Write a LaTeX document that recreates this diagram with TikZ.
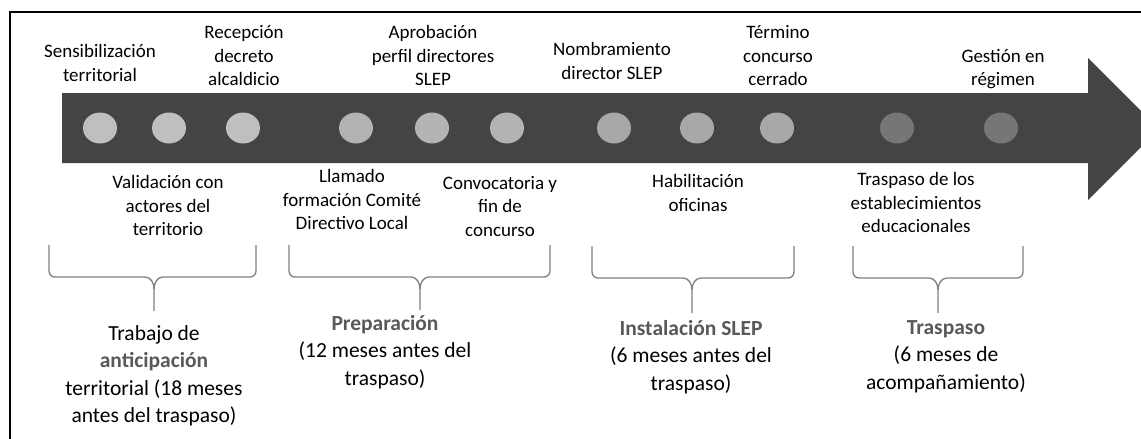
\documentclass[tikz,border=0pt]{standalone}
\usepackage{fontspec}
\setmainfont{Carlito}
\usetikzlibrary{shapes.geometric}
\definecolor{band}{HTML}{444444}
\definecolor{dotA}{HTML}{BFBFBF}
\definecolor{dotB}{HTML}{B3B3B3}
\definecolor{dotC}{HTML}{A8A8A8}
\definecolor{dotD}{HTML}{767676}
\definecolor{bracecol}{HTML}{808080}
\definecolor{hl}{HTML}{595959}
\newcommand\mybrace[6]{%
  \draw[bracestyle] (#1,#4) -- (#1,#5-6) to[out=-90,in=180] (#1+6,#5) -- (#2-9,#5) to[out=0,in=90] (#2,#5+12) -- (#2,#6);
  \draw[bracestyle] (#2,#5+12) to[out=90,in=180] (#2+9,#5) -- (#3-6,#5) to[out=0,in=-90] (#3,#5-6) -- (#3,#4);
}
\begin{document}
\begin{tikzpicture}[x=1pt,y=-1pt,
  evt/.style={font=\fontsize{19}{23.5}\selectfont, align=center, anchor=base, inner sep=0pt},
  per/.style={font=\fontsize{21.5}{27.5}\selectfont, align=center, anchor=base, inner sep=0pt},
  dot/.style={ellipse, minimum width=34pt, minimum height=31pt, inner sep=0pt},
  bracestyle/.style={draw=bracecol, line width=1.3pt},
  frame/.style={line width=2pt}]
\useasboundingbox (0,0) rectangle (1141,439);
\clip (0,0) rectangle (1141,439);
\fill[white] (0,0) rectangle (1141,439);
% frame
\draw[frame] (10,445) -- (10,12) -- (1150,12);
% arrow
\fill[band] (62,93) -- (1088,93) -- (1088,58) -- (1159,129) -- (1088,200) -- (1088,163) -- (62,163) -- cycle;
% dots
\node[dot, fill=dotA] (c1) at (100,128) {};
\node[dot, fill=dotA] (c2) at (169,128) {};
\node[dot, fill=dotA] (c3) at (243,128) {};
\node[dot, fill=dotB] (c4) at (356,128) {};
\node[dot, fill=dotB] (c5) at (432,128) {};
\node[dot, fill=dotB] (c6) at (507,128) {};
\node[dot, fill=dotC] (c7) at (614,128) {};
\node[dot, fill=dotC] (c8) at (697,128) {};
\node[dot, fill=dotC] (c9) at (777,128) {};
\node[dot, fill=dotD] (c10) at (897,128) {};
\node[dot, fill=dotD] (c11) at (1001,128) {};
% top events (anchor = baseline of last line)
\node[evt] (sens) at (100,81) {Sensibilización\\territorial};
\node[evt] (recep) at (244,85.5) {Recepción\\decreto\\alcaldicio};
\node[evt] (aprob) at (433,85.5) {Aprobación\\perfil directores\\SLEP};
\node[evt] (nomb) at (612,79) {Nombramiento\\director SLEP};
\node[evt] (term) at (778,85.5) {Término\\concurso\\cerrado};
\node[evt] (gest) at (1003,85.5) {Gestión en\\régimen};
% bottom events
\node[evt] (valid) at (168,235.5) {Validación con\\actores del\\territorio};
\node[evt] (llam) at (352,229.5) {Llamado\\formación Comité\\Directivo Local};
\node[evt] (conv) at (500,236) {Convocatoria y\\fin de\\concurso};
\node[evt] (habil) at (698,211) {Habilitación\\oficinas};
\node[evt] (trasp) at (916,232.5) {Traspaso de los\\establecimientos\\educacionales};
% brackets
\mybrace{49}{154}{256}{245}{277}{311}
\mybrace{289}{420}{550}{245}{277}{310}
\mybrace{592}{692}{794}{246}{278}{313}
\mybrace{853}{938}{1023}{246}{278}{313}
% period labels
\node[per] (trab) at (154,422.5) {Trabajo de\\{\bfseries\color{hl}anticipación}\\territorial (18 meses\\antes del traspaso)};
\node[per] (prep) at (385,385) {{\bfseries\color{hl}Preparación}\\(12 meses antes del\\traspaso)};
\node[per] (inst) at (691,390) {{\bfseries\color{hl}Instalación SLEP}\\(6 meses antes del\\traspaso)};
\node[per] (trap) at (946,389) {{\bfseries\color{hl}Traspaso}\\(6 meses de\\acompañamiento)};
\end{tikzpicture}
\end{document}
